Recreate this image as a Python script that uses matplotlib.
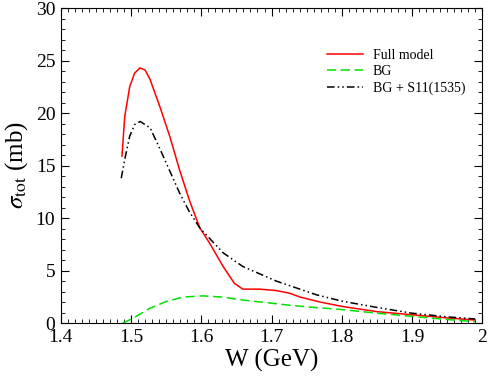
import matplotlib
matplotlib.use('Agg')
import matplotlib.pyplot as plt
from matplotlib.ticker import MultipleLocator, FuncFormatter

plt.rcParams['font.family'] = ['Liberation Serif', 'DejaVu Serif']
plt.rcParams['mathtext.fontset'] = 'stix'

# data
w_full = [1.487, 1.491, 1.498, 1.505, 1.5125, 1.520, 1.527, 1.541, 1.555, 1.569,
          1.583, 1.598, 1.612, 1.631, 1.647, 1.659, 1.683, 1.707, 1.726, 1.740,
          1.770, 1.800, 1.850, 1.900, 1.950, 1.990]
s_full = [15.9, 19.7, 22.5, 23.8, 24.3, 24.1, 23.2, 20.6, 17.8, 14.6,
          11.7, 9.05, 7.6, 5.4, 3.8, 3.24, 3.24, 3.1, 2.85, 2.5,
          2.0, 1.6, 1.1, 0.8, 0.5, 0.3]

w_bg = [1.488, 1.503, 1.527, 1.550, 1.574, 1.602, 1.631, 1.659, 1.692, 1.721,
        1.760, 1.800, 1.850, 1.900, 1.950, 1.990]
s_bg = [0.0, 0.48, 1.43, 2.06, 2.48, 2.6, 2.48, 2.2, 1.96, 1.74,
        1.5, 1.3, 0.95, 0.65, 0.35, 0.15]

w_s11 = [1.486, 1.491, 1.498, 1.505, 1.513, 1.527, 1.541, 1.555, 1.569, 1.583,
         1.598, 1.631, 1.659, 1.707, 1.764, 1.800, 1.850, 1.900, 1.950, 1.990]
s_s11 = [13.8, 15.6, 17.8, 18.9, 19.2, 18.6, 16.6, 14.5, 12.4, 10.6,
         9.05, 6.7, 5.4, 4.0, 2.7, 2.1, 1.5, 0.95, 0.6, 0.4]

fig = plt.figure(figsize=(4.91, 3.82), dpi=100)
ax = fig.add_axes([0.124, 0.154, 0.858, 0.825])

ax.plot(w_full, s_full, color='red', lw=1.1, label='Full model')
ax.plot(w_bg, s_bg, color='#00e000', lw=1.1, dashes=(6, 3), label='BG')
ax.plot(w_s11, s_s11, color='black', lw=1.1, dashes=(5, 2, 1, 2, 1, 2),
        label='BG + S11(1535)')

ax.set_xlim(1.4, 2.0)
ax.set_ylim(0, 30)
ax.xaxis.set_major_locator(MultipleLocator(0.1))
ax.xaxis.set_minor_locator(MultipleLocator(0.01))
ax.xaxis.set_major_formatter(FuncFormatter(lambda v, p: f'{v:.1f}'.rstrip('0').rstrip('.')))
ax.yaxis.set_major_locator(MultipleLocator(5))
ax.yaxis.set_minor_locator(MultipleLocator(1))
ax.tick_params(which='both', direction='in', top=True, right=True, labelsize=14)
ax.tick_params(which='major', length=6)
ax.tick_params(which='minor', length=3)
ax.tick_params(axis='x', pad=4)
ax.tick_params(axis='y', pad=4)

ax.set_xlabel('W (GeV)', fontsize=18, labelpad=2)
ax.set_ylabel(r'$\sigma_{\rm tot}$ (mb)', fontsize=18)

ax.legend(loc='upper right', bbox_to_anchor=(0.99, 0.91), frameon=False,
          fontsize=10, handlelength=2.6, handletextpad=0.7, labelspacing=0.25)

fig.savefig('out.png', dpi=100)
